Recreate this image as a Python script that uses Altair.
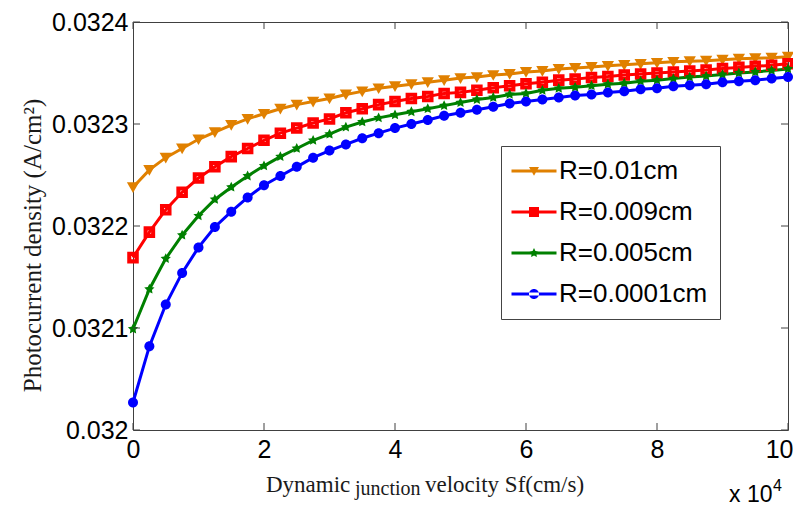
import altair as alt
import pandas as pd

# ---------------- data ----------------
sf = [0, 0.25, 0.5, 0.75, 1, 1.25, 1.5, 1.75, 2, 2.25, 2.5, 2.75, 3, 3.25, 3.5, 3.75,
      4, 4.25, 4.5, 4.75, 5, 5.25, 5.5, 5.75, 6, 6.25, 6.5, 6.75, 7, 7.25, 7.5, 7.75,
      8, 8.25, 8.5, 8.75, 9, 9.25, 9.5, 9.75, 10]

names = ["R=0.01cm", "R=0.009cm", "R=0.005cm", "R=0.0001cm"]
colors = ["#E08000", "#FF0000", "#008000", "#0000FF"]

j_r001 = [0.032238, 0.032255, 0.032267, 0.032276, 0.032285, 0.032292, 0.032299, 0.032305,
          0.032310, 0.032315, 0.032319, 0.032322, 0.032325, 0.032329, 0.032332, 0.032335,
          0.032337, 0.032339, 0.032341, 0.032343, 0.032345, 0.032346, 0.032348, 0.032349,
          0.032351, 0.032352, 0.032354, 0.032355, 0.032356, 0.032357, 0.032358, 0.032359,
          0.032360, 0.032361, 0.0323615, 0.032362, 0.032363, 0.032364, 0.0323645, 0.032365,
          0.032366]
j_r0009 = [0.032169, 0.032194, 0.032216, 0.032233, 0.032247, 0.032258, 0.032268, 0.032276,
           0.032284, 0.032291, 0.032296, 0.032301, 0.032305, 0.032311, 0.032315, 0.032319,
           0.032322, 0.032325, 0.032327, 0.032330, 0.032331, 0.032333, 0.0323355, 0.0323375,
           0.0323395, 0.032341, 0.032343, 0.032344, 0.0323455, 0.0323465, 0.032348, 0.032349,
           0.032350, 0.032351, 0.032352, 0.032353, 0.0323545, 0.0323555, 0.0323565, 0.0323575,
           0.032359]
j_r0005 = [0.032099, 0.032138, 0.032168, 0.032191, 0.032210, 0.032226, 0.032238, 0.032249,
           0.032259, 0.032268, 0.032276, 0.032284, 0.032290, 0.032297, 0.032302, 0.032306,
           0.032309, 0.032312, 0.032315, 0.032318, 0.032321, 0.032324, 0.032326, 0.032329,
           0.032330, 0.032333, 0.032335, 0.032336, 0.0323375, 0.032339, 0.032340, 0.032342,
           0.032343, 0.0323445, 0.032346, 0.032347, 0.0323485, 0.032350, 0.032351, 0.0323525,
           0.032354]
j_r00001 = [0.032027, 0.032082, 0.032123, 0.032154, 0.032179, 0.032199, 0.032214, 0.032228,
            0.032240, 0.032249, 0.032258, 0.032267, 0.032274, 0.032280, 0.032286, 0.032291,
            0.032296, 0.032300, 0.032304, 0.032308, 0.032311, 0.032314, 0.032317, 0.032320,
            0.032322, 0.032324, 0.032326, 0.032328, 0.032329, 0.032331, 0.032332, 0.032334,
            0.032335, 0.032337, 0.032338, 0.032339, 0.032341, 0.032342, 0.032343, 0.0323445,
            0.032346]

xticks = [0, 2, 4, 6, 8, 10]
yticks = [0.032, 0.0321, 0.0322, 0.0323, 0.0324]

series = [j_r001, j_r0009, j_r0005, j_r00001]
rows = []
for name, vals in zip(names, series):
    for x, y in zip(sf, vals):
        rows.append({"sf": x, "J": y, "series": name})
df = pd.DataFrame(rows)

# ---------------- style ----------------
SANS = "Liberation Sans"
SERIF = "Liberation Serif"
AX = "#404040"
W, H = 655, 408
LEFT = 125  # plot left edge = 8 + LEFT

tri = "M-1,-0.8L1,-0.8L0,0.95Z"
sq = "M-1,-1H1V1H-1Z M-0.3,-0.3V0.3H0.3V-0.3Z"
star = ("M0,-1L0.29,-0.4L0.951,-0.309L0.47,0.15L0.588,0.809L0,0.5L-0.588,0.809"
        "L-0.47,0.15L-0.951,-0.309L-0.29,-0.4Z")
circ = "M-1,0A1,1 0 1,0 1,0A1,1 0 1,0 -1,0Z"
markers = [tri, sq, star, circ]
marker_sizes = [150, 100, 110, 90]

bar = "M-4.5,-0.3H4.5V0.3H-4.5Z "
legend_paths = [bar + tri, bar + "M-1,-1H1V1H-1Z", bar + star, bar + circ]

x_scale = alt.Scale(domain=[0, 10], nice=False, zero=False)
y_scale = alt.Scale(domain=[0.032, 0.0324], nice=False, zero=False)

x_enc = alt.X("sf:Q", scale=x_scale,
              axis=alt.Axis(values=xticks, domain=False, ticks=False, tickSize=0, grid=False,
                            labelFont=SANS, labelFontSize=25, labelColor="#000",
                            labelAlign={"condition": {"test": "datum.value == 10", "value": "right"},
                                        "value": "center"},
                            labelOffset={"condition": {"test": "datum.value == 10", "value": 5},
                                         "value": 0},
                            labelPadding=7, labelFlush=False, labelOverlap=False, title=None))
y_enc = alt.Y("J:Q", scale=y_scale,
              axis=alt.Axis(values=yticks, format="~g", domain=False, ticks=False, tickSize=0,
                            grid=False, labelFont=SANS, labelFontSize=25, labelColor="#000",
                            labelPadding=5, labelFlush=False, labelOverlap=False,
                            title="Photocurrent density (A/cm²)", titleFont=SERIF,
                            titleFontSize=25, titleFontWeight="normal", titleColor="#1a1a1a",
                            titleAngle=270, titleX=-101, titleY=223, titleAlign="center",
                            titleBaseline="middle"))

color_enc = alt.Color("series:N", scale=alt.Scale(domain=names, range=colors), legend=None)

lines = alt.Chart(df).mark_line(strokeWidth=3).encode(x=x_enc, y=y_enc, color=color_enc)
points = alt.Chart(df).mark_point(filled=True, opacity=1).encode(
    x=x_enc, y=y_enc, color=color_enc,
    shape=alt.Shape("series:N", scale=alt.Scale(domain=names, range=markers), legend=None),
    size=alt.Size("series:N", scale=alt.Scale(domain=names, range=marker_sizes), legend=None),
)

leg = alt.Legend(orient="none", legendX=368, legendY=124, title=None, padding=12,
                 rowPadding=15, symbolSize=100, symbolOffset=8, labelOffset=12,
                 labelFont=SANS, labelFontSize=26, labelColor="#000", strokeColor="#444",
                 fillColor="white", symbolStrokeWidth=0, labelLimit=400,
                 direction="vertical")
legend_layer = alt.Chart(df).transform_filter("false").mark_point(filled=True, opacity=1).encode(
    shape=alt.Shape("series:N", scale=alt.Scale(domain=names, range=legend_paths), legend=leg),
    fill=alt.Fill("series:N", scale=alt.Scale(domain=names, range=colors), legend=leg),
)

ytdf = pd.DataFrame({"J": yticks})
xtdf = pd.DataFrame({"sf": xticks})
tick_l = alt.Chart(ytdf).mark_rule(color=AX).encode(y=y_enc, x=alt.value(0), x2=alt.value(7))
tick_r = alt.Chart(ytdf).mark_rule(color=AX).encode(y=y_enc, x=alt.value(W - 7), x2=alt.value(W))
tick_b = alt.Chart(xtdf).mark_rule(color=AX).encode(x=x_enc, y=alt.value(H - 7), y2=alt.value(H))
tick_t = alt.Chart(xtdf).mark_rule(color=AX).encode(x=x_enc, y=alt.value(0), y2=alt.value(7))


def label(text, x, y, font, size, color="#1a1a1a", align="left"):
    return alt.Chart(pd.DataFrame({"t": [text]})).mark_text(
        font=font, fontSize=size, color=color, align=align, baseline="alphabetic"
    ).encode(text="t:N", x=alt.value(x), y=alt.value(y))


t1 = label("Dynamic", 133, 470, SERIF, 23)
t2 = label("junction", 222, 473, SERIF, 20)
t3 = label("velocity Sf(cm/s)", 292, 470, SERIF, 23)
t4 = label("x 10", 596, 480, SANS, 23, color="#000")
t5 = label("4", 640, 469, SANS, 16, color="#000")

chart = alt.layer(
    lines, points, legend_layer, tick_l, tick_r, tick_b, tick_t, t1, t2, t3, t4, t5
).resolve_scale(shape="independent", fill="independent").properties(
    width=W, height=H,
    autosize=alt.AutoSizeParams(type="none"),
    padding={"left": LEFT, "top": 14, "right": 785 - LEFT - W, "bottom": 78},
    background="white",
).configure_view(stroke=AX, strokeWidth=1)

chart.save("out.html", embed_options={"renderer": "svg", "actions": False})
